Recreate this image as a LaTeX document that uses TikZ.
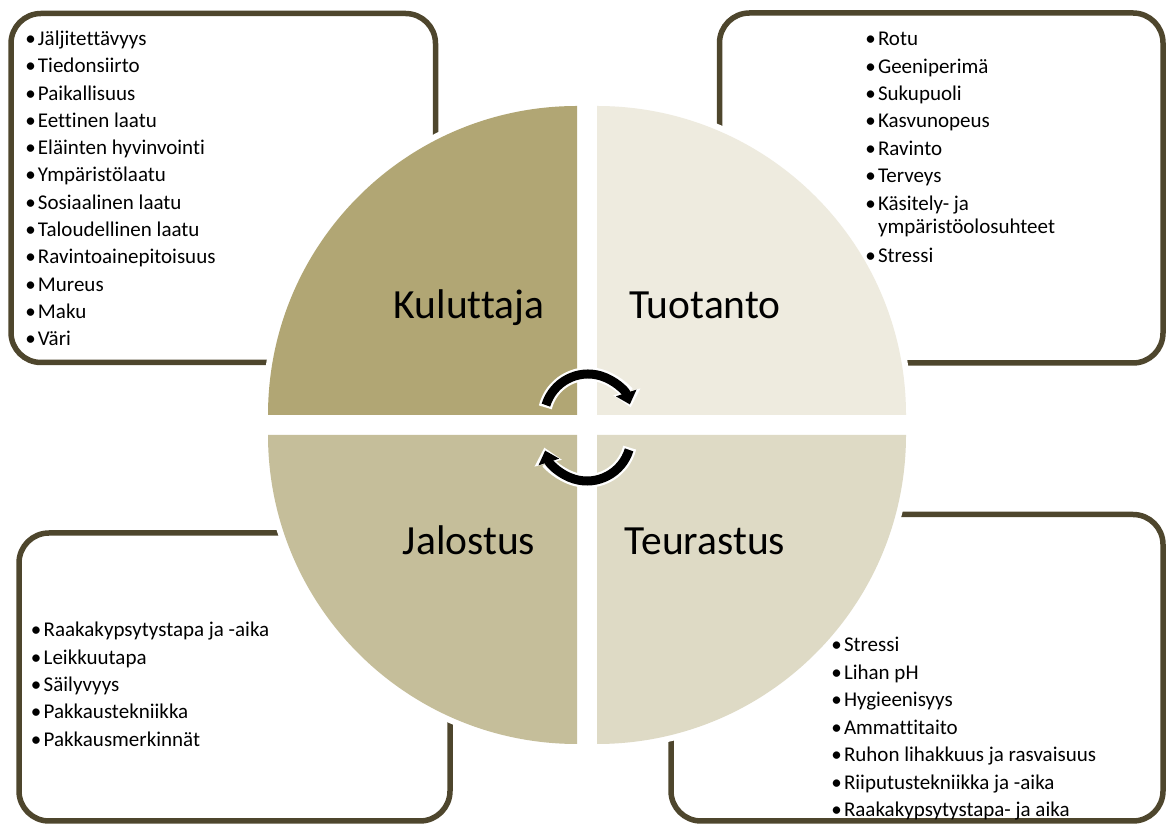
\documentclass[tikz,border=0pt]{standalone}
\usepackage{fontspec}
\setmainfont{Carlito}[Ligatures=NoCommon]
\usetikzlibrary{arrows.meta}
\definecolor{bordc}{RGB}{78,70,45}
\definecolor{qkul}{RGB}{177,166,116}
\definecolor{qtuo}{RGB}{238,235,223}
\definecolor{qjal}{RGB}{197,190,154}
\definecolor{qteu}{RGB}{222,218,197}
\newcommand\bul{\llap{\makebox[15pt][c]{•}}}
\begin{document}
\begin{tikzpicture}[x=1pt,y=1pt,
  roundbox/.style={draw=bordc, line width=5.5pt, rounded corners=30pt},
  quad/.style={fill=#1, preaction={draw=white, line width=12pt}},
  ttl/.style={font=\fontsize{41.5}{50}\selectfont, anchor=base, inner sep=0pt},
  itm/.style={font=\fontsize{21}{25}\selectfont, anchor=base west, inner sep=0pt},
  arrwhite/.style={white, line width=13.5pt, -{Triangle[length=16pt,width=27pt]}},
  arrblack/.style={black, line width=9pt, -{Triangle[length=12pt,width=21pt]}}
]
\useasboundingbox (0,0) rectangle (1172,824);
% boxes
\draw[roundbox] (11,461.5) rectangle (435.5,810.5);
\draw[roundbox] (719.5,461) rectangle (1163,811);
\draw[roundbox] (19,3) rectangle (450,291);
\draw[roundbox] (671,3) rectangle (1163,309.5);
% quadrants
\path[quad=qkul] (577,409) -- ++(-309,0) arc[start angle=180, end angle=90, radius=309] -- cycle;
\path[quad=qtuo] (597,409) -- ++(0,309) arc[start angle=90, end angle=0, radius=309] -- cycle;
\path[quad=qjal] (577,389) -- ++(-309,0) arc[start angle=180, end angle=270, radius=309] -- cycle;
\path[quad=qteu] (597,389) -- ++(309,0) arc[start angle=0, end angle=-90, radius=309] -- cycle;
% titles
\node[ttl] (kul) at (469,505.7) {Kuluttaja};
\node[ttl] (tuo) at (705,505.7) {Tuotanto};
\node[ttl] (jal) at (469,269) {Jalostus};
\node[ttl] (teu) at (705,269) {Teurastus};
% cycle arrows
\coordinate (ca) at (588,406);
\coordinate (cb) at (587,387);
\draw[arrwhite] ([shift={(166:44)}]ca) arc[start angle=166, end angle=14, radius=44];
\draw[arrblack] ([shift={(163:44)}]ca) arc[start angle=163, end angle=18, radius=44];
\draw[arrwhite] ([shift={(-14:44)}]cb) arc[start angle=-14, end angle=-166, radius=44];
\draw[arrblack] ([shift={(-17:44)}]cb) arc[start angle=-17, end angle=-162, radius=44];
% lists
\foreach \t [count=\i] in {Jäljitettävyys,Tiedonsiirto,Paikallisuus,Eettinen laatu,Eläinten hyvinvointi,Ympäristölaatu,Sosiaalinen laatu,Taloudellinen laatu,Ravintoainepitoisuus,Mureus,Maku,Väri}
  \node[itm] (kl\i) at (37.8,{778.5-27.3*(\i-1)}) {\bul\t};
\foreach \t [count=\i] in {Rotu,Geeniperimä,Sukupuoli,Kasvunopeus,Ravinto,Terveys,Käsitely- ja}
  \node[itm] (tu\i) at (877.8,{778.3-27.4*(\i-1)}) {\bul\t};
\node[itm] (tu8) at (877.8,590.7) {ympäristöolosuhteet};
\node[itm] (tu9) at (877.8,561) {\bul Stressi};
\foreach \t [count=\i] in {Raakakypsytystapa ja -aika,Leikkuutapa,Säilyvyys,Pakkaustekniikka,Pakkausmerkinnät}
  \node[itm] (ja\i) at (43.5,{187.3-27.4*(\i-1)}) {\bul\t};
\foreach \t [count=\i] in {Stressi,Lihan pH,Hygieenisyys,Ammattitaito,Ruhon lihakkuus ja rasvaisuus,Riiputustekniikka ja -aika,Raakakypsytystapa- ja aika}
  \node[itm] (te\i) at (843.8,{172.3-27.5*(\i-1)}) {\bul\t};
\end{tikzpicture}
\end{document}
